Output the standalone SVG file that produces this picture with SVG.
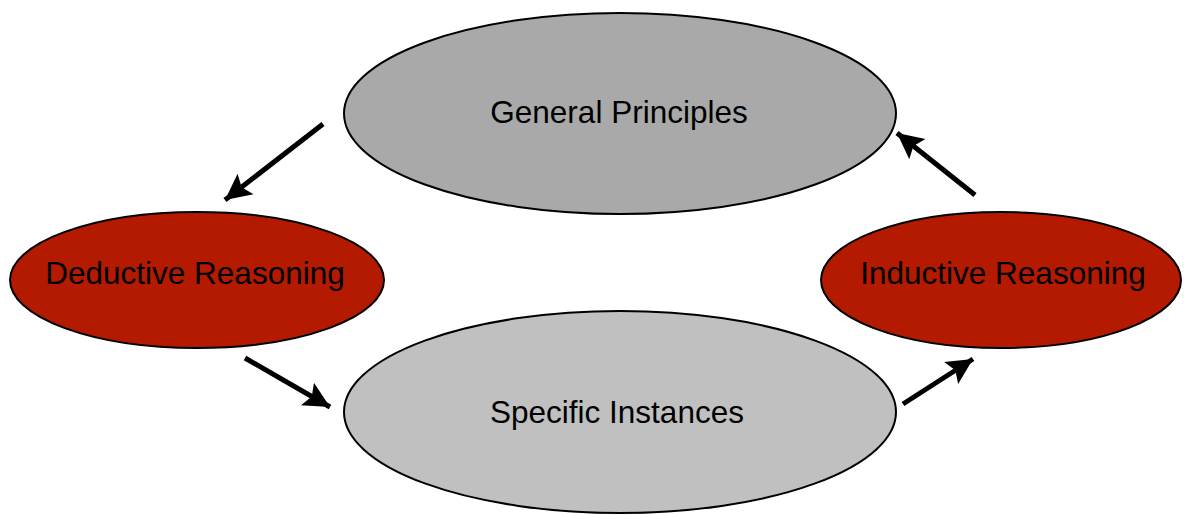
<svg xmlns="http://www.w3.org/2000/svg" width="1184" height="515" viewBox="0 0 1184 515">
<defs>
<style>
.node ellipse{stroke:#000;stroke-width:2}
.gen{fill:#a9a9a9}
.spec{fill:#c0c0c0}
.red{fill:#b31a00}
text{font-family:"Liberation Sans",Arial,Helvetica,sans-serif;font-size:31.5px;fill:#000;text-anchor:middle}
.conn line{stroke:#000;stroke-width:5}
</style>
<marker id="ah" markerUnits="userSpaceOnUse" markerWidth="32" markerHeight="32" viewBox="0 0 32 32" refX="26" refY="16" orient="auto">
<path d="M0,3 L26,16 L0,29 L5,16 Z" fill="#000"/>
</marker>
</defs>
<rect width="1184" height="515" fill="#fff"/>
<g id="general-principles" class="node">
<ellipse class="gen" cx="620" cy="113.5" rx="276" ry="100.5"/>
<text x="619" y="123">General Principles</text>
</g>
<g id="specific-instances" class="node">
<ellipse class="spec" cx="620" cy="412" rx="276" ry="101"/>
<text x="617" y="423">Specific Instances</text>
</g>
<g id="deductive-reasoning" class="node">
<ellipse class="red" cx="197" cy="280" rx="187" ry="68"/>
<text x="195" y="284">Deductive Reasoning</text>
</g>
<g id="inductive-reasoning" class="node">
<ellipse class="red" cx="1001" cy="280" rx="180" ry="68"/>
<text x="1003" y="284">Inductive Reasoning</text>
</g>
<g id="connectors" class="conn">
<line x1="323" y1="124" x2="225" y2="200" marker-end="url(#ah)"/>
<line x1="245" y1="358" x2="330" y2="407" marker-end="url(#ah)"/>
<line x1="903" y1="404" x2="973" y2="359" marker-end="url(#ah)"/>
<line x1="975" y1="195" x2="897" y2="133" marker-end="url(#ah)"/>
</g>
</svg>
